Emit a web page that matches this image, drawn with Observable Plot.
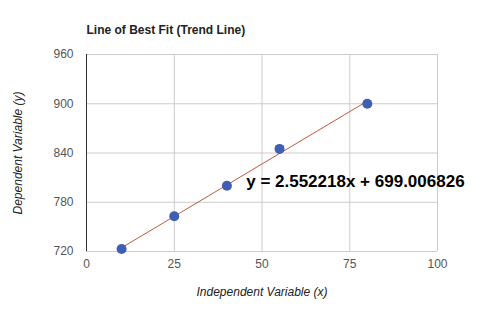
<!DOCTYPE html>
<html>
<head>
<meta charset="utf-8">
<script src="https://cdn.jsdelivr.net/npm/d3@7"></script>
<script src="https://cdn.jsdelivr.net/npm/@observablehq/plot@0.6"></script>
<style>
  html, body { margin: 0; padding: 0; background: #fff; }
  #chart svg { display: block; }
</style>
</head>
<body>
<div id="chart"></div>
<script>
const xValues = [10, 25, 40, 55, 80];
const yValues = [723, 763, 800, 845, 900];
const xTicks = [0, 25, 50, 75, 100];
const yTicks = [720, 780, 840, 900, 960];
const titleText = "Line of Best Fit (Trend Line)";
const xLabel = "Independent Variable (x)";
const yLabel = "Dependent Variable (y)";

const data = xValues.map((x, i) => ({x, y: yValues[i]}));

// least-squares fit for the equation label
const mx = d3.mean(xValues), my = d3.mean(yValues);
const sxy = d3.sum(data, d => (d.x - mx) * (d.y - my));
const sxx = d3.sum(data, d => (d.x - mx) ** 2);
const slope = sxy / sxx;
const intercept = my - slope * mx;
const eqText = `y = ${slope.toFixed(6)}x + ${intercept.toFixed(6)}`;

const font = "'Liberation Sans', Arial, sans-serif";

const chart = Plot.plot({
  width: 485,
  height: 313,
  marginLeft: 86,
  marginRight: 48,
  marginTop: 54,
  marginBottom: 62,
  style: {fontFamily: font, background: "#fff", overflow: "visible"},
  x: {domain: [0, 100], axis: null},
  y: {domain: [720, 960], axis: null},
  marks: [
    Plot.gridX(xTicks.filter(t => t > 0), {stroke: "#cccccc", strokeOpacity: 1}),
    Plot.gridY(yTicks.filter(t => t > 720), {stroke: "#cccccc", strokeOpacity: 1}),
    Plot.ruleY([720], {stroke: "#cccccc"}),
    Plot.ruleX([0], {stroke: "#333333"}),
    Plot.axisX(xTicks, {tickSize: 0, tickPadding: 8, fontSize: 12, fill: "#555", label: null}),
    Plot.axisY(yTicks, {tickSize: 0, tickPadding: 13, fontSize: 12, fill: "#555", label: null}),
    Plot.linearRegressionY(data, {x: "x", y: "y", stroke: "#c1583e", strokeWidth: 1, ci: 0}),
    Plot.dot(data, {x: "x", y: "y", r: 5, fill: "#3f5fb3", stroke: "none"}),
    Plot.text([eqText], {x: 45.5, y: 798.3, text: d => d, textAnchor: "start", lineAnchor: "bottom",
      fontSize: 17, fontWeight: "bold", fill: "#000"}),
    Plot.text([titleText], {frameAnchor: "top-left", text: d => d, textAnchor: "start", lineAnchor: "bottom",
      dy: -21, fontSize: 12, fontWeight: "bold", fill: "#222"}),
    Plot.text([xLabel], {frameAnchor: "bottom", text: d => d, lineAnchor: "bottom",
      dy: 44, fontSize: 12, fontStyle: "italic", fill: "#222"}),
    Plot.text([yLabel], {frameAnchor: "left", text: d => d, rotate: -90, dx: -68,
      textAnchor: "middle", lineAnchor: "middle",
      fontSize: 12, fontStyle: "italic", fill: "#222"})
  ]
});
document.getElementById("chart").appendChild(chart);
</script>
</body>
</html>
